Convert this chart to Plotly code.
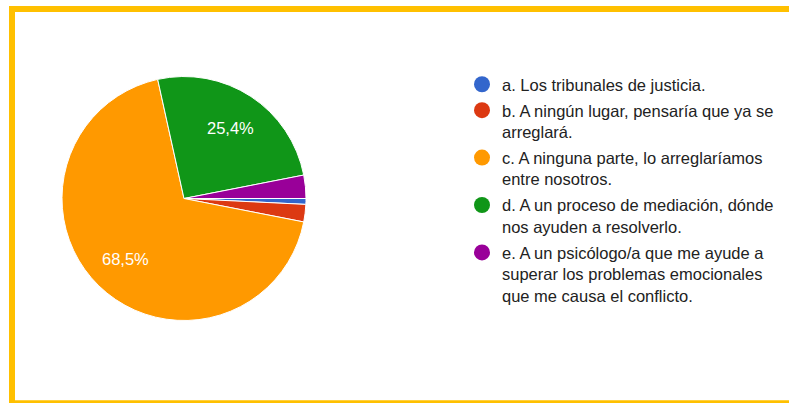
import math
import plotly.graph_objects as go

# Survey answers and response counts
options = [
    "a. Los tribunales de justicia.",
    "b. A ningún lugar, pensaría que ya se<br>arreglará.",
    "c. A ninguna parte, lo arreglaríamos<br>entre nosotros.",
    "d. A un proceso de mediación, dónde<br>nos ayuden a resolverlo.",
    "e. A un psicólogo/a que me ayude a<br>superar los problemas emocionales<br>que me causa el conflicto.",
]
counts = [1, 3, 89, 33, 4]
colors = ["#3366CC", "#DC3912", "#FF9900", "#109618", "#990099"]

W, H = 789, 403
FONT = "Liberation Sans, Arial, sans-serif"

# Pie geometry in pixels (centre and radius)
CX, CY, R = 184.0, 198.5, 122.0
START = 90.0  # degrees clockwise from 12 o'clock

fig = go.Figure()

fig.add_trace(go.Pie(
    labels=options,
    values=counts,
    textinfo="none",
    marker=dict(colors=colors, line=dict(color="white", width=1)),
    sort=False,
    direction="clockwise",
    rotation=START,
    showlegend=False,
    hoverinfo="skip",
    domain=dict(x=[(CX - R) / W, (CX + R) / W],
                y=[(H - CY - R) / H, (H - CY + R) / H]),
))

# Percentage labels on the larger slices, placed along each slice's mid-angle
total = sum(counts)
acc = 0
for c in counts:
    p = c / total * 100
    mid = math.radians(START + (acc + c / 2) / total * 360)
    acc += c
    if p < 5:
        continue
    px = CX + 0.69 * R * math.sin(mid)
    py = CY - 0.69 * R * math.cos(mid)
    fig.add_annotation(
        x=px / W, y=1 - py / H, xref="paper", yref="paper",
        text=f"{p:.1f}".replace(".", ",") + "%",
        showarrow=False, xanchor="center", yanchor="middle",
        font=dict(color="white", size=16.5, family=FONT),
    )

# Round legend symbols, one entry per answer
for i, (name, col) in enumerate(zip(options, colors)):
    fig.add_trace(go.Scatter(
        x=[None], y=[None], mode="markers", name=name,
        legendgroup=f"g{i}",
        marker=dict(color=col, size=16, symbol="circle"),
        hoverinfo="skip",
    ))

# Yellow frame
frame = dict(type="line", xref="paper", yref="paper",
             line=dict(color="#FFC000", width=6))
fig.add_shape(**frame, x0=12 / W, x1=1.02, y0=1 - 9 / H, y1=1 - 9 / H)
fig.add_shape(**frame, x0=12 / W, x1=12 / W, y0=1 - 6 / H, y1=-0.02)
fig.add_shape(**frame, x0=9 / W, x1=1.02, y0=1 - 403.3 / H, y1=1 - 403.3 / H)

fig.update_layout(
    width=W, height=H,
    margin=dict(l=0, r=0, t=0, b=0),
    paper_bgcolor="white",
    plot_bgcolor="white",
    xaxis=dict(visible=False),
    yaxis=dict(visible=False),
    font=dict(family=FONT, color="#222222", size=16.5),
    legend=dict(
        x=462 / W, xanchor="left",
        y=1 - 67 / H, yanchor="top",
        valign="top",
        tracegroupgap=1.5,
        bgcolor="rgba(0,0,0,0)",
        font=dict(family=FONT, color="#222222", size=16.5),
    ),
)

fig.write_html("out.html")
